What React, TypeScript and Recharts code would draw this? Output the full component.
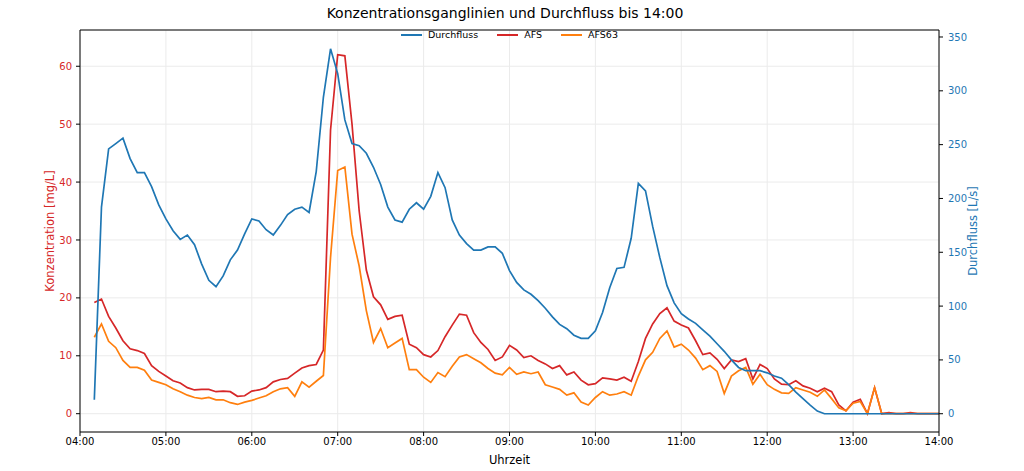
import { LineChart, Line, XAxis, YAxis, CartesianGrid, ReferenceLine } from "recharts";

// samples every 5 min from 04:10 to 14:00 (minutes since midnight)
const START_MIN = 250;
const STEP_MIN = 5;

// Durchfluss [L/s]
const durchfluss = [
  13, 192, 246, 251, 256, 237, 224, 224, 211, 194,
  181, 170, 162, 166, 157, 139, 124, 118, 128, 143, 152, 167,
  181, 179, 171, 166, 175, 185, 190, 192, 187, 225, 294, 339,
  316, 273, 251, 249, 242, 229, 213, 192, 180, 178, 190, 196,
  190, 202, 224, 210, 180, 166, 158, 152, 152, 155, 155, 149,
  133, 122, 115, 111, 105, 98, 90, 83, 79, 73, 70, 70,
  77, 94, 117, 135, 136, 163, 214, 207, 174, 145, 119, 103,
  93, 88, 84, 78, 72, 65, 58, 50, 43, 40, 40, 40,
  38, 35, 33, 27, 20, 14, 8, 2.5, 0, 0, 0, 0,
  0, 0, 0, 0, 0, 0, 0, 0, 0, 0, 0, 0,
  0,
];

// AFS [mg/L]
const afs = [
  19.2, 19.8, 16.8, 14.8, 12.6, 11.2, 10.9, 10.4, 8.3, 7.3,
  6.5, 5.7, 5.3, 4.5, 4.1, 4.2, 4.2, 3.8, 3.9, 3.8, 3.0, 3.1,
  3.9, 4.1, 4.5, 5.5, 5.9, 6.1, 7.0, 7.9, 8.3, 8.5, 11.0, 49.0,
  62.0, 61.8, 50.0, 35.0, 24.8, 20.2, 18.8, 16.3, 16.8, 17.0, 12.0, 11.4,
  10.2, 9.8, 10.9, 13.3, 15.3, 17.2, 17.0, 14.0, 12.3, 11.1, 9.2, 9.8,
  11.8, 11.0, 9.7, 10.0, 9.2, 8.6, 7.8, 8.3, 6.7, 7.2, 5.8, 5.0,
  5.2, 6.2, 6.0, 5.8, 6.3, 5.6, 9.0, 13.0, 15.5, 17.3, 18.3, 16.0,
  15.3, 14.8, 12.6, 10.2, 10.5, 9.4, 7.8, 9.3, 9.0, 9.5, 6.0, 8.5,
  7.8, 6.0, 5.1, 5.0, 5.7, 4.8, 4.4, 3.8, 4.4, 3.8, 1.5, 0.5,
  2.0, 2.5, 0, 4.5, 0, 0.2, 0, 0, 0.2, 0, 0, 0,
  0,
];

// AFS63 [mg/L]
const afs63 = [
  13.2, 15.5, 12.5, 11.4, 9.2, 8.0, 8.0, 7.5, 5.8, 5.4,
  5.0, 4.3, 3.8, 3.2, 2.8, 2.6, 2.8, 2.4, 2.4, 1.9, 1.6, 2.0,
  2.3, 2.7, 3.1, 3.8, 4.3, 4.5, 3.0, 5.5, 4.6, 5.6, 6.6, 27.0,
  42.0, 42.6, 31.0, 25.5, 17.8, 12.3, 14.7, 11.4, 12.2, 13.0, 7.6, 7.6,
  6.3, 5.4, 7.1, 6.4, 8.2, 9.8, 10.2, 9.5, 8.8, 7.8, 7.0, 6.7,
  8.0, 6.8, 7.2, 6.9, 7.2, 5.0, 4.6, 4.2, 3.2, 3.6, 2.0, 1.5,
  2.8, 3.8, 3.2, 3.4, 3.8, 3.2, 6.5, 9.3, 10.6, 13.0, 14.3, 11.5,
  12.0, 11.0, 9.6, 7.6, 8.3, 7.3, 3.5, 6.5, 7.4, 8.0, 5.1, 6.8,
  5.0, 4.2, 3.6, 3.5, 4.5, 4.1, 3.7, 3.0, 4.1, 2.6, 1.0, 0.5,
  1.8, 2.1, 0, 4.5, 0, 0, 0, 0, 0, 0, 0, 0,
  0,
];

const hourTicks = [240, 300, 360, 420, 480, 540, 600, 660, 720, 780, 840];
const concTicks = [0, 10, 20, 30, 40, 50, 60];
const flowTicks = [0, 50, 100, 150, 200, 250, 300, 350];

const CONC_DOMAIN: [number, number] = [-3.16, 66.26];
const FLOW_DOMAIN: [number, number] = [-16.97, 356.5];

const BLUE = "#1f77b4";
const RED = "#d62728";
const ORANGE = "#ff7f0e";

const data = durchfluss.map((q, i) => ({
  t: START_MIN + i * STEP_MIN,
  q,
  afs: afs[i],
  afs63: afs63[i],
}));

const fmtHour = (m: number) => `${String(Math.floor(m / 60)).padStart(2, "0")}:00`;

const legendItems = [
  { name: "Durchfluss", color: BLUE },
  { name: "AFS", color: RED },
  { name: "AFS63", color: ORANGE },
];

export default function App() {
  return (
    <div
      style={{
        position: "absolute",
        left: 0,
        top: 0,
        width: 1024,
        height: 471,
        background: "#fff",
        fontFamily: "'DejaVu Sans', sans-serif",
      }}
    >
      <div
        style={{
          position: "absolute",
          top: 5,
          left: 0,
          width: 1010,
          textAlign: "center",
          fontSize: 14,
          lineHeight: "16px",
          color: "#000",
        }}
      >
        Konzentrationsganglinien und Durchfluss bis 14:00
      </div>
      <LineChart width={1024} height={471} data={data} margin={{ top: 30, right: 0, bottom: 0, left: 0 }}>
        <CartesianGrid yAxisId="left" stroke="#ebebeb" strokeWidth={1} />
        <XAxis
          dataKey="t"
          type="number"
          domain={[240, 840]}
          ticks={hourTicks}
          tickFormatter={fmtHour}
          height={39}
          tickSize={4}
          tickMargin={2}
          tick={{ fill: "#000", fontSize: 10 }}
          stroke="#000"
          label={{ value: "Uhrzeit", position: "insideBottom", offset: 7, fill: "#000", fontSize: 11.5 }}
        />
        <YAxis
          yAxisId="left"
          type="number"
          domain={CONC_DOMAIN}
          ticks={concTicks}
          allowDataOverflow
          width={80}
          tickSize={4}
          tickMargin={4}
          tick={{ fill: RED, fontSize: 10 }}
          stroke="#000"
          label={{
            value: "Konzentration [mg/L]",
            angle: -90,
            position: "insideLeft",
            offset: 50,
            fill: RED,
            fontSize: 11.5,
            style: { textAnchor: "middle" },
          }}
        />
        <YAxis
          yAxisId="right"
          orientation="right"
          type="number"
          domain={FLOW_DOMAIN}
          ticks={flowTicks}
          allowDataOverflow
          width={85}
          tickSize={4}
          tickMargin={5}
          tick={{ fill: BLUE, fontSize: 10, textAnchor: "start" }}
          stroke="#000"
          label={{
            value: "Durchfluss [L/s]",
            angle: -90,
            position: "insideRight",
            offset: 51,
            fill: BLUE,
            fontSize: 11.5,
            style: { textAnchor: "middle" },
          }}
        />
        <ReferenceLine yAxisId="left" y={CONC_DOMAIN[1]} stroke="#000" />
        <Line
          yAxisId="left"
          type="linear"
          dataKey="afs"
          name="AFS"
          stroke={RED}
          strokeWidth={1.7}
          dot={false}
          isAnimationActive={false}
        />
        <Line
          yAxisId="left"
          type="linear"
          dataKey="afs63"
          name="AFS63"
          stroke={ORANGE}
          strokeWidth={1.7}
          dot={false}
          isAnimationActive={false}
        />
        <Line
          yAxisId="right"
          type="linear"
          dataKey="q"
          name="Durchfluss"
          stroke={BLUE}
          strokeWidth={1.7}
          dot={false}
          isAnimationActive={false}
        />
      </LineChart>
      <div
        style={{
          position: "absolute",
          top: 29,
          left: 401,
          display: "flex",
          alignItems: "center",
          fontSize: 9.5,
          lineHeight: "12px",
          color: "#000",
        }}
      >
        {legendItems.map((it) => (
          <div key={it.name} style={{ display: "flex", alignItems: "center", marginRight: 19 }}>
            <span style={{ display: "inline-block", width: 21, height: 0, borderTop: `2px solid ${it.color}`, marginRight: 6 }} />
            <span>{it.name}</span>
          </div>
        ))}
      </div>
    </div>
  );
}
